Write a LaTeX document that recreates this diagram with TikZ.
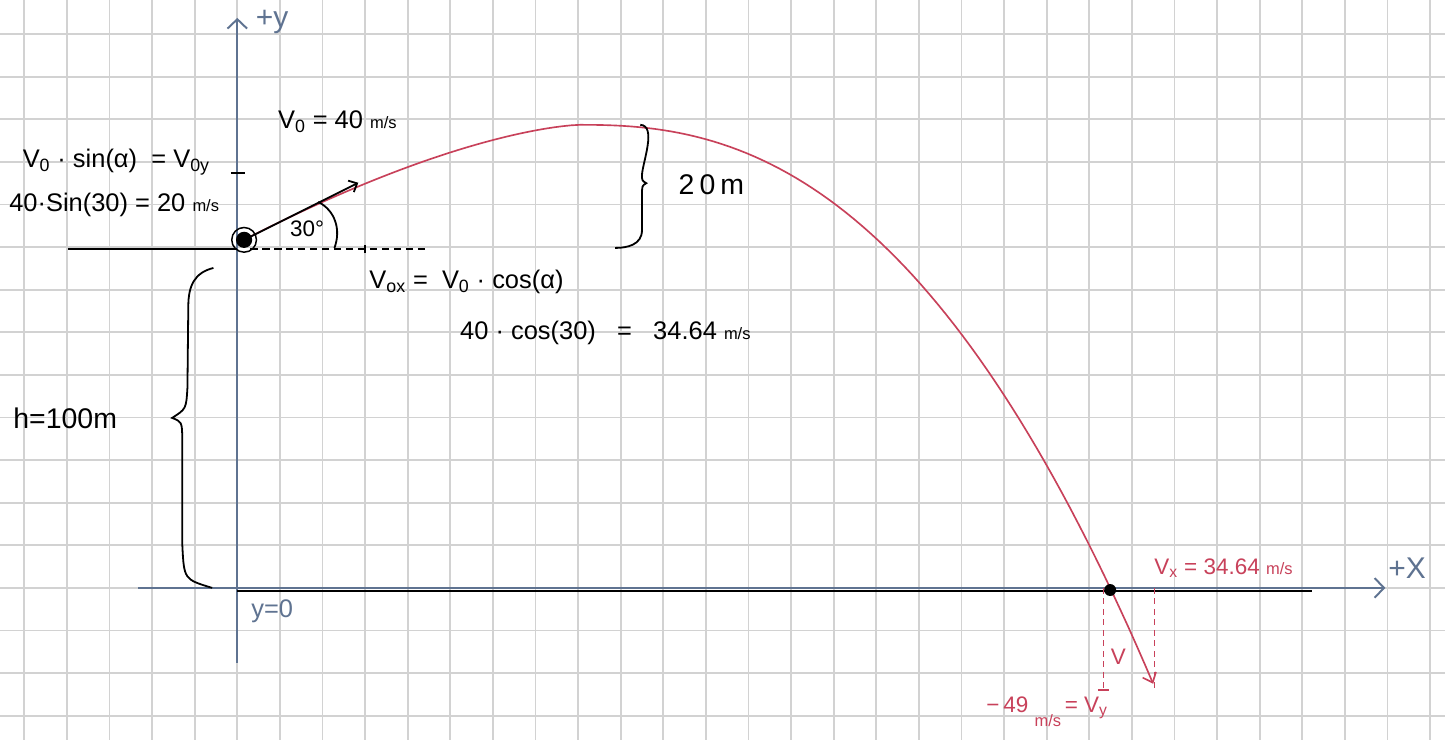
\documentclass[tikz,border=0pt]{standalone}
\usepackage{fontspec}
\setmainfont{Liberation Sans}
\usetikzlibrary{arrows.meta}
\usepackage{xcolor}
\definecolor{AxisGrey}{RGB}{95,115,145}
\definecolor{CurveRed}{RGB}{200,65,90}
\definecolor{GridGrey}{RGB}{210,210,210}
\newcommand{\low}[1]{\textsubscript{#1}}
\newcommand{\ms}{{\fontsize{11}{12}\selectfont m/s}}

\begin{document}
\begin{tikzpicture}[
gridline/.style={draw=GridGrey,line width=1.3pt},
axis/.style={draw=AxisGrey,line width=1.3pt,-{Straight Barb[length=2.2mm,width=4.6mm]}},
ink/.style={draw=black,line width=1.2pt},
redink/.style={draw=CurveRed,line width=1.1pt},
lbl/.style={font=\fontsize{17}{20}\selectfont,inner sep=1pt},
redlbl/.style={lbl,text=CurveRed,font=\fontsize{15}{17}\selectfont},
axlbl/.style={lbl,text=AxisGrey}
]
\useasboundingbox (-5.57,-3.57) rectangle (28.35,13.80);
\fill[white] (-5.57,-3.57) rectangle (28.35,13.80);
\draw[gridline] (-5.57,-3.57) grid (28.35,13.80);

% axes
\coordinate (ybot) at (0,-1.76);
\coordinate (ytop) at (0,13.38);
\coordinate (xleft) at (-2.32,0);
\coordinate (xright) at (26.95,0);
\draw[axis] (ybot) -- (ytop);
\draw[axis] (xleft) -- (xright);
\node[axlbl,font=\fontsize{20}{22}\selectfont] (ylabel) at (0.82,13.29) {+y};
\node[axlbl,font=\fontsize{20}{22}\selectfont] (xlabel) at (27.46,0.47) {+X};
\node[axlbl] (yzero) at (0.82,-0.54) {y=0};

% ground, platform, ticks
\coordinate (g1) at (0,-0.07);
\coordinate (g2) at (25.23,-0.07);
\draw[ink] (g1) -- (g2);
\coordinate (p1) at (-3.97,7.96);
\coordinate (p2) at (0,7.96);
\draw[ink] (p1) -- (p2);
\draw[ink] (-0.15,9.74) -- (0.17,9.74);

% launch point and initial velocity
\coordinate (launch) at (0.16,8.17);
\coordinate (v0tip) at (2.84,9.51);
\coordinate (d1) at (0.30,7.96);
\coordinate (d2) at (4.41,7.96);
\draw[draw=black,line width=1pt,dash pattern=on 5pt off 3pt] (d1) -- (d2);
\draw[draw=black,line width=1pt] (3.0,7.86) -- (3.0,8.05);

% trajectory
\draw[redink,-{Straight Barb[length=2mm,width=3.4mm]}]
  plot[domain=0.16:8.04,samples=40] (\x,{10.87-0.1218*(8.05-\x)^1.5})
  -- plot[domain=8.06:21.5,samples=70] (\x,{10.87-0.025*(\x-8.05)^2.41});

\draw[ink,-{Straight Barb[length=1.6mm,width=3mm]}] (launch) -- (v0tip);
\node[circle,draw=black,line width=1pt,inner sep=0pt,minimum size=5.8mm] (ball) at (launch) {};
\fill[black] (launch) circle (0.19);

% angle
\coordinate (arcA) at (2.28,7.98);
\coordinate (arcB) at (1.90,9.06);
\draw[ink] (arcA) .. controls (2.44,8.40) and (2.30,8.86) .. (arcB);
\node[lbl,font=\fontsize{15}{17}\selectfont] (angle) at (1.64,8.43) {30°};

% braces
\draw[ink] (9.46,10.87) .. controls (9.85,10.85) and (9.52,10.0) .. (9.50,9.70)
  .. controls (9.50,9.56) .. (9.60,9.50) .. controls (9.50,9.44) .. (9.50,9.20)
  -- (9.50,8.40) .. controls (9.50,8.05) and (9.15,7.98) .. (8.87,7.98);
\draw[ink] (-0.56,7.51) .. controls (-1.00,7.40) and (-1.15,7.10) .. (-1.15,6.60)
  -- (-1.17,4.70) .. controls (-1.20,4.20) .. (-1.53,3.99)
  .. controls (-1.30,3.90) .. (-1.29,3.50) -- (-1.29,1.00)
  .. controls (-1.25,0.20) .. (-0.59,0.0);

% labels
\node[lbl] (v0) at (2.35,10.94) {V\low{0} = 40 \ms};
\node[lbl] (voy) at (-2.84,10.0) {V\low{0} · sin(α) \;= V\low{0y}};
\node[lbl] (voyval) at (-2.89,8.99) {40·Sin(30) = 20 \ms};
\node[lbl] (vox) at (5.38,7.18) {V\low{ox} = \;V\low{0} · cos(α)};
\node[lbl] (voxval) at (8.64,5.99) {40 · cos(30) \;\;=\;\; 34.64 \ms};
\node[lbl,font=\fontsize{19}{21}\selectfont\addfontfeature{LetterSpace=18}] (rise) at (11.13,9.46) {20m};
\node[lbl,font=\fontsize{19}{21}\selectfont] (height) at (-4.04,3.99) {h=100m};

% impact
\coordinate (hit) at (20.49,-0.05);
\coordinate (vy1) at (20.33,0);
\coordinate (vy2) at (20.33,-2.39);
\coordinate (vx1) at (21.53,0);
\coordinate (vx2) at (21.53,-2.39);
\draw[redink,dash pattern=on 4pt off 3pt] (vy1) -- (vy2);
\draw[redink] (20.20,-2.39) -- (20.46,-2.39);
\draw[redink,dash pattern=on 4pt off 3pt] (vx1) -- (vx2);
\fill[black] (hit) circle (0.14);
\node[redlbl] (vx) at (23.15,0.47) {V\low{x} = 34.64 \ms};
\node[redlbl] (vlabel) at (20.68,-1.62) {V};
\node[redlbl] (vy) at (19.01,-2.91) {−\,49\;\raisebox{-1.2ex}{\ms}\,= V\low{y}};
\end{tikzpicture}
\end{document}
